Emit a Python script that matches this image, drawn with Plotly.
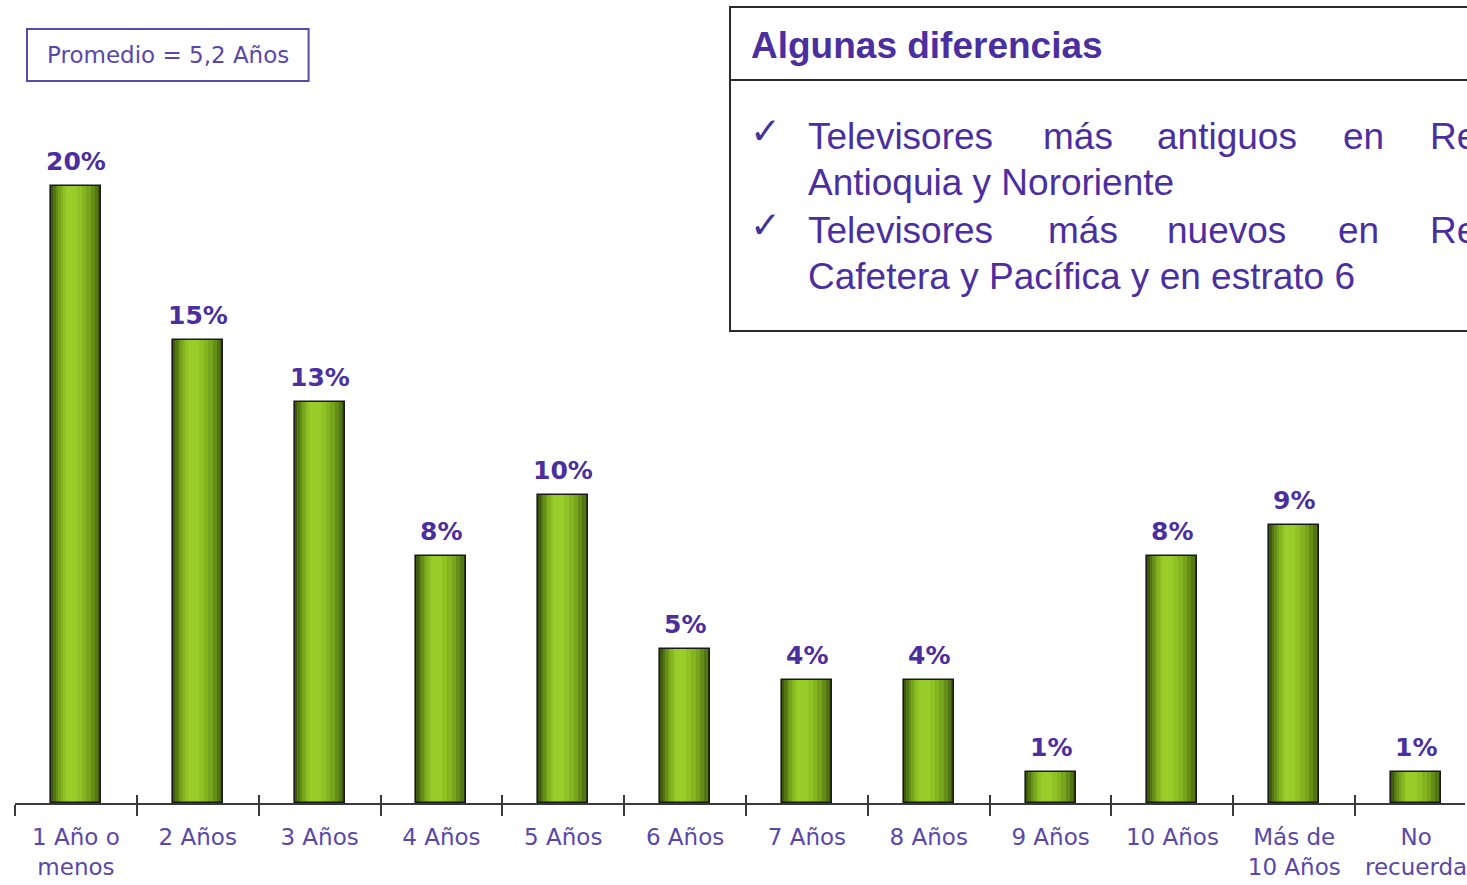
import plotly.graph_objects as go

# ---------------- data ----------------
categories = ["1 Año o<br>menos", "2 Años", "3 Años", "4 Años", "5 Años", "6 Años",
              "7 Años", "8 Años", "9 Años", "10 Años", "Más de<br>10 Años", "No<br>recuerda"]
values = [20, 15, 13, 8, 10, 5, 4, 4, 1, 8, 9, 1]
value_labels = [f"{v}%" for v in values]

promedio_text = "Promedio = 5,2 Años"
box_title = "Algunas diferencias"
line1_words = ["Televisores", "más", "antiguos", "en", "Región"]
line2_text = "Antioquia y Nororiente"
line3_words = ["Televisores", "más", "nuevos", "en", "Región"]
line4_text = "Cafetera y Pacífica y en estrato 6"

# ---------------- layout helpers ----------------
FIG_W, FIG_H = 1467, 885
M_L, M_R, M_T, M_B = 15, 0, 32, 82
PW = FIG_W - M_L - M_R
PH = FIG_H - M_T - M_B
CAT_PX = 122.0
X_RANGE = [-0.5, -0.5 + PW / CAT_PX]


def px(x):
    return (x - M_L) / PW


def py(y):
    return (M_T + PH - y) / PH


PURPLE = "#4b2f9e"
TICK_PURPLE = "#5a48a8"
AXIS_COL = "#3a3a3a"
BAR_W = 0.41

# gradient layers (fraction across bar: start, end, colour), outside -> inside
layers = [
    (0.00, 1.00, "#3f5c0e"),
    (0.05, 0.95, "#527614"),
    (0.10, 0.88, "#658e18"),
    (0.15, 0.80, "#76a41c"),
    (0.20, 0.71, "#84b520"),
    (0.25, 0.62, "#8fc324"),
    (0.30, 0.52, "#98cd2a"),
]

fig = go.Figure()

for a, b, col in layers:
    fig.add_trace(go.Bar(
        x=categories, y=values,
        width=(b - a) * BAR_W,
        offset=-BAR_W / 2 + a * BAR_W,
        marker=dict(color=col, line=dict(width=0)),
        showlegend=False, hoverinfo="skip",
    ))

# outline
fig.add_trace(go.Bar(
    x=categories, y=values,
    width=BAR_W, offset=-BAR_W / 2,
    marker=dict(color="rgba(0,0,0,0)", line=dict(color="#1a1a1a", width=1.6)),
    showlegend=False, hoverinfo="skip",
))

# invisible trace for the secondary (inside-tick) axis
fig.add_trace(go.Scatter(x=[0], y=[0], xaxis="x2", mode="markers",
                         marker=dict(opacity=0), showlegend=False, hoverinfo="skip"))

annotations = []
for c, v, t in zip(categories, values, value_labels):
    annotations.append(dict(
        x=c, y=v, xref="x", yref="y", text=t, showarrow=False,
        yanchor="bottom", yshift=8,
        font=dict(family="DejaVu Sans", size=25, color=PURPLE, weight="bold"),
    ))

# Promedio box text
annotations.append(dict(
    x=px(168), y=py(55), xref="paper", yref="paper", text=promedio_text,
    showarrow=False, xanchor="center", yanchor="middle",
    font=dict(family="DejaVu Sans", size=23, color=TICK_PURPLE),
))

# right box title
annotations.append(dict(
    x=px(750), y=py(45), xref="paper", yref="paper", text=box_title,
    showarrow=False, xanchor="left", yanchor="middle",
    font=dict(family="Liberation Sans, Arial", size=37, color=PURPLE, weight="bold"),
))

body_font = dict(family="Liberation Sans, Arial", size=37, color=PURPLE)
line1_x = [807, 1042, 1157, 1343, 1430]
line3_x = [807, 1047, 1167, 1338, 1430]
for w, xx in zip(line1_words, line1_x):
    annotations.append(dict(x=px(xx), y=py(137), xref="paper", yref="paper", text=w,
                            showarrow=False, xanchor="left", yanchor="middle", font=body_font))
annotations.append(dict(x=px(807), y=py(183), xref="paper", yref="paper", text=line2_text,
                        showarrow=False, xanchor="left", yanchor="middle", font=body_font))
for w, xx in zip(line3_words, line3_x):
    annotations.append(dict(x=px(xx), y=py(231), xref="paper", yref="paper", text=w,
                            showarrow=False, xanchor="left", yanchor="middle", font=body_font))
annotations.append(dict(x=px(807), y=py(276), xref="paper", yref="paper", text=line4_text,
                        showarrow=False, xanchor="left", yanchor="middle", font=body_font))
for yy in (131, 225):
    annotations.append(dict(x=px(767), y=py(yy), xref="paper", yref="paper", text="✓",
                            showarrow=False, xanchor="center", yanchor="middle",
                            font=dict(family="DejaVu Sans", size=37, color="#44349a")))

shapes = [
    # Promedio box
    dict(type="rect", xref="paper", yref="paper", x0=px(27), x1=px(309), y0=py(81), y1=py(29),
         line=dict(color="#5a4aa8", width=2), fillcolor="rgba(0,0,0,0)"),
    # right info box
    dict(type="rect", xref="paper", yref="paper", x0=px(731), x1=px(1500), y0=py(331), y1=py(7),
         line=dict(color="#2b2b2b", width=2), fillcolor="white", layer="below"),
    dict(type="line", xref="paper", yref="paper", x0=px(731), x1=px(1500), y0=py(80), y1=py(80),
         line=dict(color="#2b2b2b", width=2)),
]

fig.update_layout(
    width=FIG_W, height=FIG_H,
    margin=dict(l=M_L, r=M_R, t=M_T, b=M_B),
    paper_bgcolor="white", plot_bgcolor="white",
    barmode="overlay", bargap=0,
    hovermode=False,
    annotations=annotations, shapes=shapes,
    xaxis=dict(
        type="category", range=X_RANGE, tickson="boundaries",
        ticks="outside", ticklen=11, tickwidth=2, tickcolor=AXIS_COL,
        showline=True, linecolor=AXIS_COL, linewidth=2,
        showgrid=False, zeroline=False,
        tickfont=dict(family="DejaVu Sans", size=23, color=TICK_PURPLE),
        ticklabelstandoff=12,
    ),
    xaxis2=dict(
        overlaying="x", anchor="y", type="linear", range=X_RANGE,
        tickvals=[i - 0.5 for i in range(len(categories) + 1)],
        ticks="inside", ticklen=8, tickwidth=2, tickcolor=AXIS_COL,
        showticklabels=False, showline=False, showgrid=False, zeroline=False,
    ),
    yaxis=dict(range=[0, PH / 30.85], visible=False, showgrid=False, zeroline=False),
)

fig.write_html("out.html", config={"displayModeBar": False},
               post_script="document.body.style.margin='0';document.body.style.overflow='hidden';")
